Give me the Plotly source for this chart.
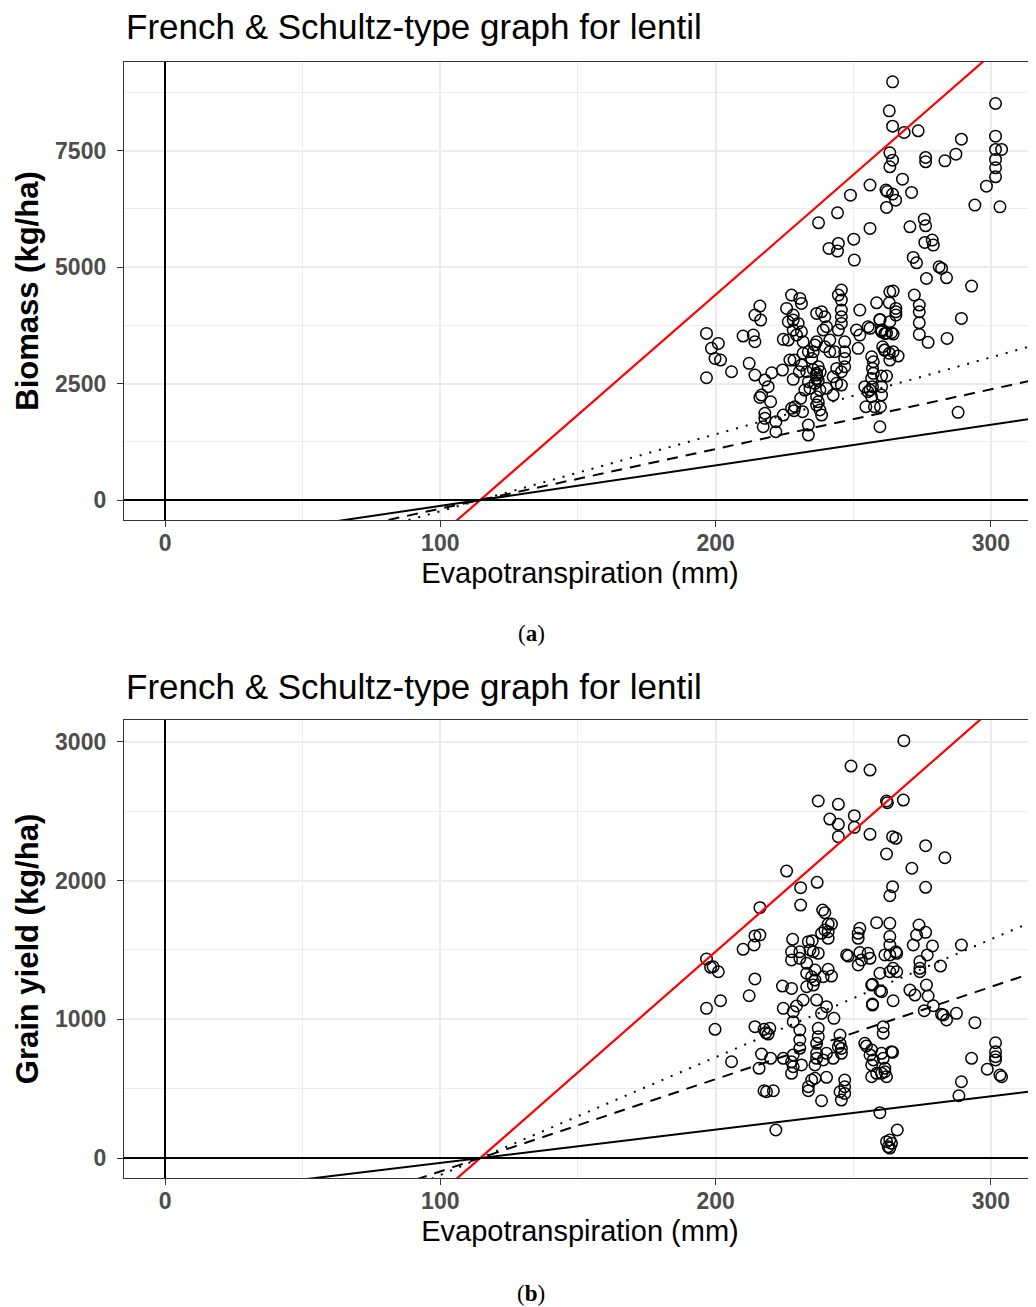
import plotly.graph_objects as go

# ---------------- data ----------------
# Panel (a): Evapotranspiration (mm) vs Biomass (kg/ha)
et_a = [264.3, 263.1, 264.3, 268.5, 273.6, 289.3, 301.7, 301.7, 301.7, 303.9, 301.7, 301.7, 301.7, 298.4, 303.3,
        294.2, 287.3, 283.3, 276.3, 276.3, 263.3, 264.3, 263.3, 267.9, 261.9, 262.4, 264.3, 265.4, 262.1, 271.2,
        256.1, 249.0, 244.3, 237.4, 256.1, 250.2, 244.6, 241.2, 244.3, 270.6, 275.8, 276.3, 276.0, 278.7, 279.1,
        250.4, 271.8,
        273.0, 281.2, 282.1, 283.9, 276.6, 293.0, 289.3, 288.1, 284.1, 277.2, 274.0, 274.0, 274.0, 274.0, 272.2,
        264.5, 265.5, 265.5, 265.5, 263.1, 259.7, 263.3, 260.3, 263.9, 264.5, 262.1, 260.7, 261.3, 263.1, 264.5,
        266.3, 263.3, 256.7, 257.3, 257.0, 257.3, 256.7, 260.3, 262.1, 257.0, 260.3, 256.1, 256.7, 260.3, 257.7,
        254.6, 259.9, 259.7,
        196.7, 198.5, 201.0, 199.8, 201.8, 196.7, 205.8, 210.0, 213.7, 214.3, 214.3, 216.1, 216.4, 212.2, 214.3,
        217.9, 219.1, 216.7, 216.1, 220.0, 220.4, 224.3, 217.9, 217.9, 217.3, 221.9, 221.9, 224.6, 227.6, 228.8,
        228.5, 231.6, 233.7, 233.7, 228.2, 230.9, 232.4, 234.3, 233.7, 233.1, 237.3, 236.7, 236.7, 236.1, 237.9,
        236.7, 237.3, 236.7, 237.9, 238.5, 227.0, 228.5, 231.2, 230.4, 231.8, 233.7, 235.5, 234.9, 236.1, 236.7,
        226.4, 228.2, 230.0, 228.2, 229.4, 231.2, 231.8, 226.4, 224.6, 227.6, 230.6, 231.2, 225.8, 228.2, 236.7,
        238.5, 239.7, 240.3, 239.1, 241.5, 239.7, 241.5, 243.3, 244.0, 242.7, 245.7, 246.9, 246.9, 246.9, 246.9,
        244.6, 245.7, 245.7, 245.7, 245.7, 244.6, 245.7, 252.4, 251.2, 252.4, 251.8, 255.4, 256.1, 258.5, 259.7,
        260.3, 261.5, 261.5, 263.3, 244.0, 245.7, 242.7, 240.3, 254.2, 255.4, 235.5, 236.7, 237.3, 238.0]
biomass_a = [8973, 8351, 8022, 7887, 7922, 7743, 8509, 7808, 7522, 7522, 7308, 7128, 6935, 6735, 6291,
             6328, 7422, 7278, 7351, 7257, 7450, 7293, 7150, 6885, 6650, 6620, 6564, 6435, 6278, 6600,
             6757, 6542, 6163, 5948, 5828, 5598, 5506, 5399, 5341, 5862, 6027, 5884, 5527, 5577, 5470,
             5148, 5206,
             5090, 5004, 4969, 4768, 4755, 4590, 3897, 1881, 3468, 3383, 3554, 3803, 4039, 4183, 4397,
             4483, 4112, 4039, 3968, 4232, 3876, 3825, 3611, 3590, 3560, 3580, 3289, 3218, 3147, 3181,
             3089, 3003, 3074, 2967, 2824, 2718, 2610, 2660, 2660, 2431, 2431, 2360, 2216, 2252, 2001,
             2001, 2001, 1572,
             3575, 3254, 3361, 3039, 3003, 2624, 2752, 3518, 3539, 3396, 3968, 4161, 3861, 2932, 2681,
             2574, 2431, 2252, 2202, 2109, 2731, 2789, 1860, 1752, 1572, 1680, 1465, 1823, 1967, 2001,
             1916, 1895, 1609, 1394, 2589, 2181, 2360, 2396, 2538, 2752, 2859, 2718, 2610, 2503, 2360,
             2216, 2109, 2038, 1931, 1823, 3003, 3003, 2896, 2752, 3147, 3181, 3181, 3039, 3325, 3396,
             3825, 3861, 3790, 3647, 3539, 3611, 3396, 3432, 3447, 4397, 4326, 4219, 4112, 3968, 4004,
             4039, 3932, 3718, 3647, 3432, 3289, 3181, 3181, 2824, 2645, 2752, 2859, 3039, 3181, 3396,
             3647, 3790, 3932, 4075, 4290, 4397, 4505, 4075, 3647, 3539, 3254, 3718, 3683, 4232, 3861,
             3647, 3575, 3218, 4468, 2503, 2467, 2252, 2396, 2431, 2323, 2800, 2680, 2560, 2750]

# Panel (b): Evapotranspiration (mm) vs Grain yield (kg/ha)
et_b = [268.4, 249.2, 256.1, 237.3, 244.6, 262.1, 262.4, 268.2, 241.5, 244.6, 250.4, 250.4, 244.6, 256.1, 264.3,
        265.5, 276.3, 283.3, 262.1, 271.3, 225.8, 230.9, 236.9, 230.9, 216.1, 238.9, 239.7, 264.3, 276.3, 263.3,
        240.9, 242.1, 239.7, 240.9, 238.5, 240.9, 252.4, 251.8, 251.8, 258.5, 263.3, 263.3, 263.3, 273.9, 273.0,
        276.3, 278.8, 289.3, 214.3, 216.1, 214.0, 228.0, 235.1, 210.0,
        196.7, 199.1, 201.0, 198.2, 214.3, 212.2, 201.8, 196.7, 199.8, 214.3, 217.6, 219.7, 219.1, 218.3, 224.3,
        227.6, 227.6, 227.6, 230.6, 230.6, 233.1, 233.7, 235.5, 237.3, 234.3, 236.1, 233.1, 234.9, 236.1, 233.1,
        235.5, 239.1, 240.9, 242.1, 248.2, 252.4, 255.4, 256.1, 251.8, 253.0, 256.7, 259.7, 260.3, 257.0, 261.5,
        224.6, 228.2, 229.4, 231.8, 236.7, 238.5, 240.3, 243.0, 228.2, 230.6, 230.6, 237.3, 237.3, 236.7, 245.2,
        245.2, 254.2, 260.9, 260.9,
        216.7, 205.8, 215.8, 220.0, 224.6, 228.2, 227.6, 228.2, 231.2, 227.6, 230.6, 236.7, 236.7, 236.1, 239.1,
        240.3, 234.9, 233.7, 236.1, 233.7, 240.3, 238.5, 245.7, 244.6, 245.7, 242.7, 246.9, 246.9, 245.2, 246.9,
        245.7, 254.8, 256.7, 256.1, 257.3, 256.7, 260.3, 260.9, 263.9, 261.5, 260.3, 262.1, 256.7, 258.5, 257.0,
        259.7, 257.0, 264.5, 270.6, 272.4, 277.2, 276.6, 275.8, 279.1, 282.7, 283.9, 287.5, 294.2, 293.0, 298.7,
        289.3, 288.4, 301.7, 301.7, 301.7, 301.7, 303.3, 303.9, 259.7, 221.9, 266.0, 263.3, 262.1, 263.9, 262.7,
        263.3, 274.2, 274.2, 264.5, 265.8, 263.3, 247.6, 263.3, 265.8, 276.9, 281.7, 274.2, 265.5, 271.8, 282.1,
        264.3, 261.5, 217.6, 218.5, 221.0]
grain_b = [3009, 2826, 2797, 2574, 2550, 2574, 2562, 2581, 2444, 2406, 2468, 2384, 2317, 2334, 2317,
           2305, 2252, 2165, 2192, 2089, 2069, 1949, 1988, 1824, 1805, 1788, 1769, 1956, 1952, 1891,
           1687, 1687, 1644, 1632, 1620, 1584, 1656, 1620, 1584, 1697, 1692, 1597, 1536, 1680, 1608,
           1627, 1529, 1536, 1601, 1608, 1536, 1577, 1567, 1505,
           1435, 1379, 1343, 1375, 1291, 1170, 1134, 1079, 928, 947, 928, 935, 894, 903, 1240,
           1223, 1487, 1428, 1487, 1440, 1404, 1560, 1487, 1476, 1500, 1355, 1332, 1307, 1283, 1235,
           1247, 1307, 1361, 1312, 1456, 1481, 1476, 1440, 1392, 1428, 1247, 1332, 1199, 1103, 1464,
           1079, 1055, 1096, 1139, 1139, 1043, 1091, 1007, 983, 923, 851, 935, 875, 827, 887,
           827, 827, 947, 899,
           750, 694, 647, 719, 719, 743, 694, 658, 671, 611, 791, 755, 719, 671, 707,
           755, 562, 514, 575, 485, 582, 413, 790, 803, 755, 719, 562, 514, 478, 466,
           418, 808, 779, 743, 707, 671, 755, 719, 767, 647, 611, 586, 586, 611, 1252,
           1206, 1110, 1134, 1211, 1175, 1168, 1247, 1062, 1098, 1031, 995, 1043, 976, 719, 640,
           550, 449, 831, 766, 730, 707, 598, 586, 327, 202, 202, 130, 118, 106, 81,
           72, 1368, 1343, 1368, 1343, 1343, 1464, 1464, 1476, 1464, 1384, 1416, 1487, 1536, 1036,
           762, 622, 485, 478, 485]

# French & Schultz-type lines: common x-intercept (mm) and slopes (kg/ha/mm)
et_intercept = 114.5
line_styles = ["red", "solid", "dash", "dot"]
slopes_a = [51.5, 8.7, 12.8, 16.5]
slopes_b = [17.4, 2.4, 6.65, 8.5]
line_x = [-20.0, 340.0]

x_ticks = [0, 100, 200, 300]
y_ticks_a = [0, 2500, 5000, 7500]
y_ticks_b = [0, 1000, 2000, 3000]

title_text = "French & Schultz-type graph for lentil"
x_title = "Evapotranspiration (mm)"
y_title_a = "Biomass (kg/ha)"
y_title_b = "Grain yield (kg/ha)"

# ---------------- figure ----------------
# page body has an 8 px margin, so the figure is 8 px smaller and all
# layout pixel positions (window coordinates) are shifted by 8 px
OFF = 8
W, H = 1036 - OFF, 1307 - OFF
SANS = "Liberation Sans, Arial, Helvetica, sans-serif"


def px_x(p):
    return (p - OFF) / W


def px_y(p):
    return 1 - (p - OFF) / H


fig = go.Figure()

dash_map = {"solid": "solid", "dash": "11px,8px", "dot": "2px,8px"}


def add_panel(fig, xs, ys, slopes, xa, ya):
    fig.add_trace(go.Scatter(
        x=xs, y=ys, mode="markers", xaxis=xa, yaxis=ya, showlegend=False,
        marker=dict(symbol="circle-open", size=11.5, color="black", line=dict(width=1.5, color="black")),
        hoverinfo="x+y"))
    for style, s in zip(line_styles, slopes):
        yy = [s * (xv - et_intercept) for xv in line_x]
        if style == "red":
            ln = dict(color="#FF0000", width=2.2)
        else:
            ln = dict(color="black", width=2.0, dash=dash_map[style])
        fig.add_trace(go.Scatter(x=line_x, y=yy, mode="lines", line=ln, xaxis=xa, yaxis=ya,
                                 showlegend=False, hoverinfo="skip"))


add_panel(fig, et_a, biomass_a, slopes_a, "x", "y")
add_panel(fig, et_b, grain_b, slopes_b, "x2", "y2")

x_dom = [px_x(124), 1.0]
ya_dom = [px_y(520), px_y(62)]
yb_dom = [px_y(1178), px_y(720)]

tickfont = dict(family=SANS, size=23, color="#4D4D4D", weight="bold")
common_axis = dict(
    showgrid=True, gridcolor="#EBEBEB", gridwidth=1.8,
    zeroline=True, zerolinecolor="black", zerolinewidth=2.2,
    showline=True, linecolor="#333333", linewidth=1.3,
    ticks="outside", ticklen=6, tickwidth=1.3, tickcolor="#333333",
    tickfont=tickfont,
)


def xaxis_cfg(anchor):
    return dict(common_axis, domain=x_dom, anchor=anchor, range=[-14.9, 316.4],
                tickvals=x_ticks, ticktext=[str(v) for v in x_ticks], mirror=True,
                minor=dict(tickvals=[50, 150, 250], showgrid=True, gridcolor="#EDEDED", gridwidth=0.9, ticks=""),
                ticklabelstandoff=-4,
                title=dict(text=x_title, font=dict(family=SANS, size=29, color="black"), standoff=7))


def yaxis_cfg(anchor, dom, rng, ticks, minor_vals, title):
    return dict(common_axis, domain=dom, anchor=anchor, range=rng,
                tickvals=ticks, ticktext=[str(v) for v in ticks], mirror=False,
                minor=dict(tickvals=minor_vals, showgrid=True, gridcolor="#EDEDED", gridwidth=0.9, ticks=""),
                ticklabelstandoff=6,
                title=dict(text=title, font=dict(family=SANS, size=31, color="black", weight="bold"), standoff=7))


fig.update_layout(
    width=W, height=H,
    margin=dict(l=0, r=0, t=0, b=0),
    paper_bgcolor="white", plot_bgcolor="white",
    font=dict(family=SANS),
    xaxis=xaxis_cfg("y"),
    yaxis=yaxis_cfg("x", ya_dom, [-429, 9399], y_ticks_a, [1250, 3750, 6250, 8750], y_title_a),
    xaxis2=xaxis_cfg("y2"),
    yaxis2=yaxis_cfg("x2", yb_dom, [-144, 3158], y_ticks_b, [500, 1500, 2500], y_title_b),
    annotations=[
        dict(text=title_text, x=px_x(124), y=px_y(27), xref="paper", yref="paper",
             xanchor="left", yanchor="middle", showarrow=False,
             font=dict(family=SANS, size=35, color="black")),
        dict(text=title_text, x=px_x(124), y=px_y(686), xref="paper", yref="paper",
             xanchor="left", yanchor="middle", showarrow=False,
             font=dict(family=SANS, size=35, color="black")),
        dict(text="(<b>a</b>)", x=px_x(531), y=px_y(633), xref="paper", yref="paper",
             xanchor="center", yanchor="middle", showarrow=False,
             font=dict(family="Liberation Serif, DejaVu Serif, serif", size=23, color="black")),
        dict(text="(<b>b</b>)", x=px_x(531), y=px_y(1293), xref="paper", yref="paper",
             xanchor="center", yanchor="middle", showarrow=False,
             font=dict(family="Liberation Serif, DejaVu Serif, serif", size=23, color="black")),
    ],
)

fig.write_html("out.html")
